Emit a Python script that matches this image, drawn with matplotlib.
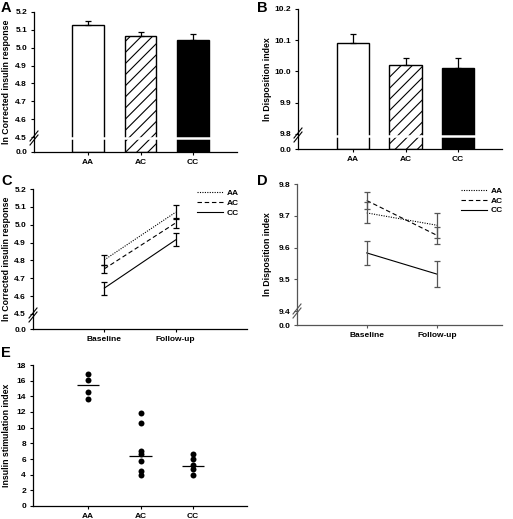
import numpy as np
import matplotlib
matplotlib.use('Agg')
import matplotlib.pyplot as plt

plt.rcParams['font.family'] = ['Liberation Sans', 'DejaVu Sans']
plt.rcParams['font.weight'] = 'bold'
plt.rcParams['hatch.linewidth'] = 0.8

# ---------------- data ----------------
genotypes = ['AA', 'AC', 'CC']
a_means = [5.125, 5.068, 5.045]
a_sem = [0.025, 0.020, 0.030]
b_means = [10.090, 10.020, 10.012]
b_sem = [0.030, 0.022, 0.032]

timepoints = ['Baseline', 'Follow-up']
c_AA = [4.803, 5.070]
c_AA_sem = [0.028, 0.040]
c_AC = [4.753, 5.010]
c_AC_sem = [0.024, 0.030]
c_CC = [4.645, 4.915]
c_CC_sem = [0.036, 0.036]

d_AA = [9.709, 9.670]
d_AA_sem = [0.033, 0.040]
d_AC = [9.748, 9.638]
d_AC_sem = [0.027, 0.027]
d_CC = [9.583, 9.516]
d_CC_sem = [0.039, 0.041]

e_AA = [16.9, 16.1, 14.5, 13.7]
e_AC = [11.9, 10.6, 7.0, 6.6, 5.8, 4.5, 3.9]
e_CC = [6.7, 6.0, 5.2, 4.7, 3.9]
e_center = [15.4, 6.4, 5.1]

a_yticks = [0.0, 4.5, 4.6, 4.7, 4.8, 4.9, 5.0, 5.1, 5.2]
b_yticks = [0.0, 9.8, 9.9, 10.0, 10.1, 10.2]
d_yticks = [0.0, 9.4, 9.5, 9.6, 9.7, 9.8]
e_yticks = [0, 2, 4, 6, 8, 10, 12, 14, 16, 18]

W, H = 513, 519
fig = plt.figure(figsize=(W / 100, H / 100), dpi=100)


def rect(l, r, t, b):
    return [l / W, 1 - b / H, (r - l) / W, (b - t) / H]


def make_scale(lo, g):
    def fwd(y):
        y = np.asarray(y, dtype=float)
        return np.where(y >= lo, g + (y - lo), y / lo * g)

    def inv(z):
        z = np.asarray(z, dtype=float)
        return np.where(z >= g, lo + (z - g), z / g * lo)
    return fwd, inv


def style(ax, col='black'):
    for s in ['top', 'right']:
        ax.spines[s].set_visible(False)
    for s in ['left', 'bottom']:
        ax.spines[s].set_linewidth(0.9)
        ax.spines[s].set_color(col)
    ax.tick_params(axis='both', direction='out', length=2.5, width=0.8,
                   labelsize=6, pad=2.5, color=col)
    ax.minorticks_off()


def break_marks(ax, wpx, hpx, ypx_from_bottom, col='black'):
    # two short slanted lines across the y spine
    for off in (-2.0, 2.0):
        x0, x1 = -4 / wpx, 4 / wpx
        yc = ypx_from_bottom + off
        ax.plot([x0, x1], [(yc - 5) / hpx, (yc + 5) / hpx],
                transform=ax.transAxes, color=col, lw=0.8, clip_on=False)


def ylabel(ax, text, xfrac):
    ax.set_ylabel(text, fontsize=6.3, fontweight='bold')
    ax.yaxis.set_label_coords(xfrac, 0.5)


xs = np.arange(1, 4)
fills = ['white', 'white', 'black']
hatches = [None, '///', None]

# ---------------- Panel A ----------------
axA = fig.add_axes(rect(34, 237, 12, 152))
fwd, inv = make_scale(4.5, 0.084)
axA.set_yscale('function', functions=(fwd, inv))
for x, m, e, f, h in zip(xs, a_means, a_sem, fills, hatches):
    axA.bar(x, m, width=0.6, color=f, edgecolor='black', linewidth=1.0,
            hatch=h, zorder=2)
    axA.errorbar(x, m, yerr=[[0], [e]], color='black', lw=0.9, capsize=2.4,
                 capthick=0.9, zorder=3)
axA.hlines([4.2] * 3, xs - 0.36, xs + 0.36, color='white', lw=1.8, zorder=4)
axA.set_xlim(-0.02, 3.83)
axA.set_ylim(0, 5.2)
axA.set_yticks(a_yticks)
axA.set_yticklabels(['%.1f' % v for v in a_yticks])
axA.set_xticks(xs)
axA.set_xticklabels(genotypes)
style(axA)
break_marks(axA, 203, 140, 14)
ylabel(axA, 'ln Corrected insulin response', -0.113)

# ---------------- Panel B ----------------
axB = fig.add_axes(rect(298, 502, 9, 149))
fwd, inv = make_scale(9.8, 0.048)
axB.set_yscale('function', functions=(fwd, inv))
for x, m, e, f, h in zip(xs, b_means, b_sem, fills, hatches):
    axB.bar(x, m, width=0.62, color=f, edgecolor='black', linewidth=1.0,
            hatch=h, zorder=2)
    axB.errorbar(x, m, yerr=[[0], [e]], color='black', lw=0.9, capsize=2.4,
                 capthick=0.9, zorder=3)
axB.hlines([8.5] * 3, xs - 0.37, xs + 0.37, color='white', lw=1.8, zorder=4)
axB.set_xlim(-0.05, 3.84)
axB.set_ylim(0, 10.2)
axB.set_yticks(b_yticks)
axB.set_yticklabels(['%.1f' % v for v in b_yticks])
axB.set_xticks(xs)
axB.set_xticklabels(genotypes)
style(axB)
break_marks(axB, 204, 140, 14)
ylabel(axB, 'ln Disposition index', -0.127)


# ---------------- line panels ----------------
def line_panel(ax, series, sems, col):
    xt = np.array([1, 2])
    styles = [(0, (1, 1.2)), (0, (4, 2.5)), '-']
    for s, e, ls, lab in zip(series, sems, styles, genotypes):
        ax.plot(xt, s, color='black', lw=0.8, linestyle=ls, label=lab, zorder=2)
        ax.errorbar(xt, s, yerr=e, fmt='none', ecolor=col, elinewidth=0.9,
                    capsize=2.0, capthick=0.9, zorder=3)
    ax.set_xticks(xt)
    ax.set_xticklabels(timepoints)


# ---------------- Panel C ----------------
axC = fig.add_axes(rect(33, 247, 189, 329))
fwd, inv = make_scale(4.5, 0.084)
axC.set_yscale('function', functions=(fwd, inv))
line_panel(axC, [c_AA, c_AC, c_CC], [c_AA_sem, c_AC_sem, c_CC_sem], 'black')
axC.set_xlim(0, 3)
axC.set_ylim(0, 5.2)
axC.set_yticks(a_yticks)
axC.set_yticklabels(['%.1f' % v for v in a_yticks])
style(axC)
break_marks(axC, 214, 140, 14)
ylabel(axC, 'ln Corrected insulin response', -0.103)
axC.legend(loc='upper left', bbox_to_anchor=(0.766, 1.0), frameon=False,
           fontsize=6, handlelength=3.1, handletextpad=0.45, labelspacing=0.25,
           borderpad=0, borderaxespad=0)

# ---------------- Panel D ----------------
dcol = '#555555'
axD = fig.add_axes(rect(297, 502, 184, 325))
fwd, inv = make_scale(9.4, 0.044)
axD.set_yscale('function', functions=(fwd, inv))
line_panel(axD, [d_AA, d_AC, d_CC], [d_AA_sem, d_AC_sem, d_CC_sem], dcol)
axD.set_xlim(0.01, 2.92)
axD.set_ylim(0, 9.8)
axD.set_yticks(d_yticks)
axD.set_yticklabels(['%.1f' % v for v in d_yticks])
style(axD, dcol)
axD.tick_params(labelcolor='black')
break_marks(axD, 205, 141, 14, dcol)
ylabel(axD, 'ln Disposition index', -0.122)
axD.legend(loc='upper left', bbox_to_anchor=(0.80, 0.98), frameon=False,
           fontsize=6, handlelength=3.1, handletextpad=0.45, labelspacing=0.25,
           borderpad=0, borderaxespad=0)

# ---------------- Panel E ----------------
axE = fig.add_axes(rect(33, 247, 365, 506))
for x, pts, c in zip(xs, [e_AA, e_AC, e_CC], e_center):
    axE.plot([x] * len(pts), pts, 'o', color='black', markersize=4.3,
             markeredgewidth=0, zorder=3)
    axE.hlines(c, x - 0.21, x + 0.21, color='black', lw=0.9, zorder=2)
axE.set_xlim(-0.04, 4.02)
axE.set_ylim(0, 18)
axE.set_yticks(e_yticks)
axE.set_yticklabels([str(v) for v in e_yticks])
axE.set_xticks(xs)
axE.set_xticklabels(genotypes)
style(axE)
ylabel(axE, 'Insulin stimulation index', -0.103)

# ---------------- panel letters ----------------
for lab, (px, py) in zip('ABCDE', [(1, 1), (257, 1), (1, 174), (257, 174), (1, 346)]):
    fig.text(px / W, 1 - py / H, lab, fontsize=10.5, fontweight='bold',
             ha='left', va='top')

fig.savefig('out.png', dpi=100)
